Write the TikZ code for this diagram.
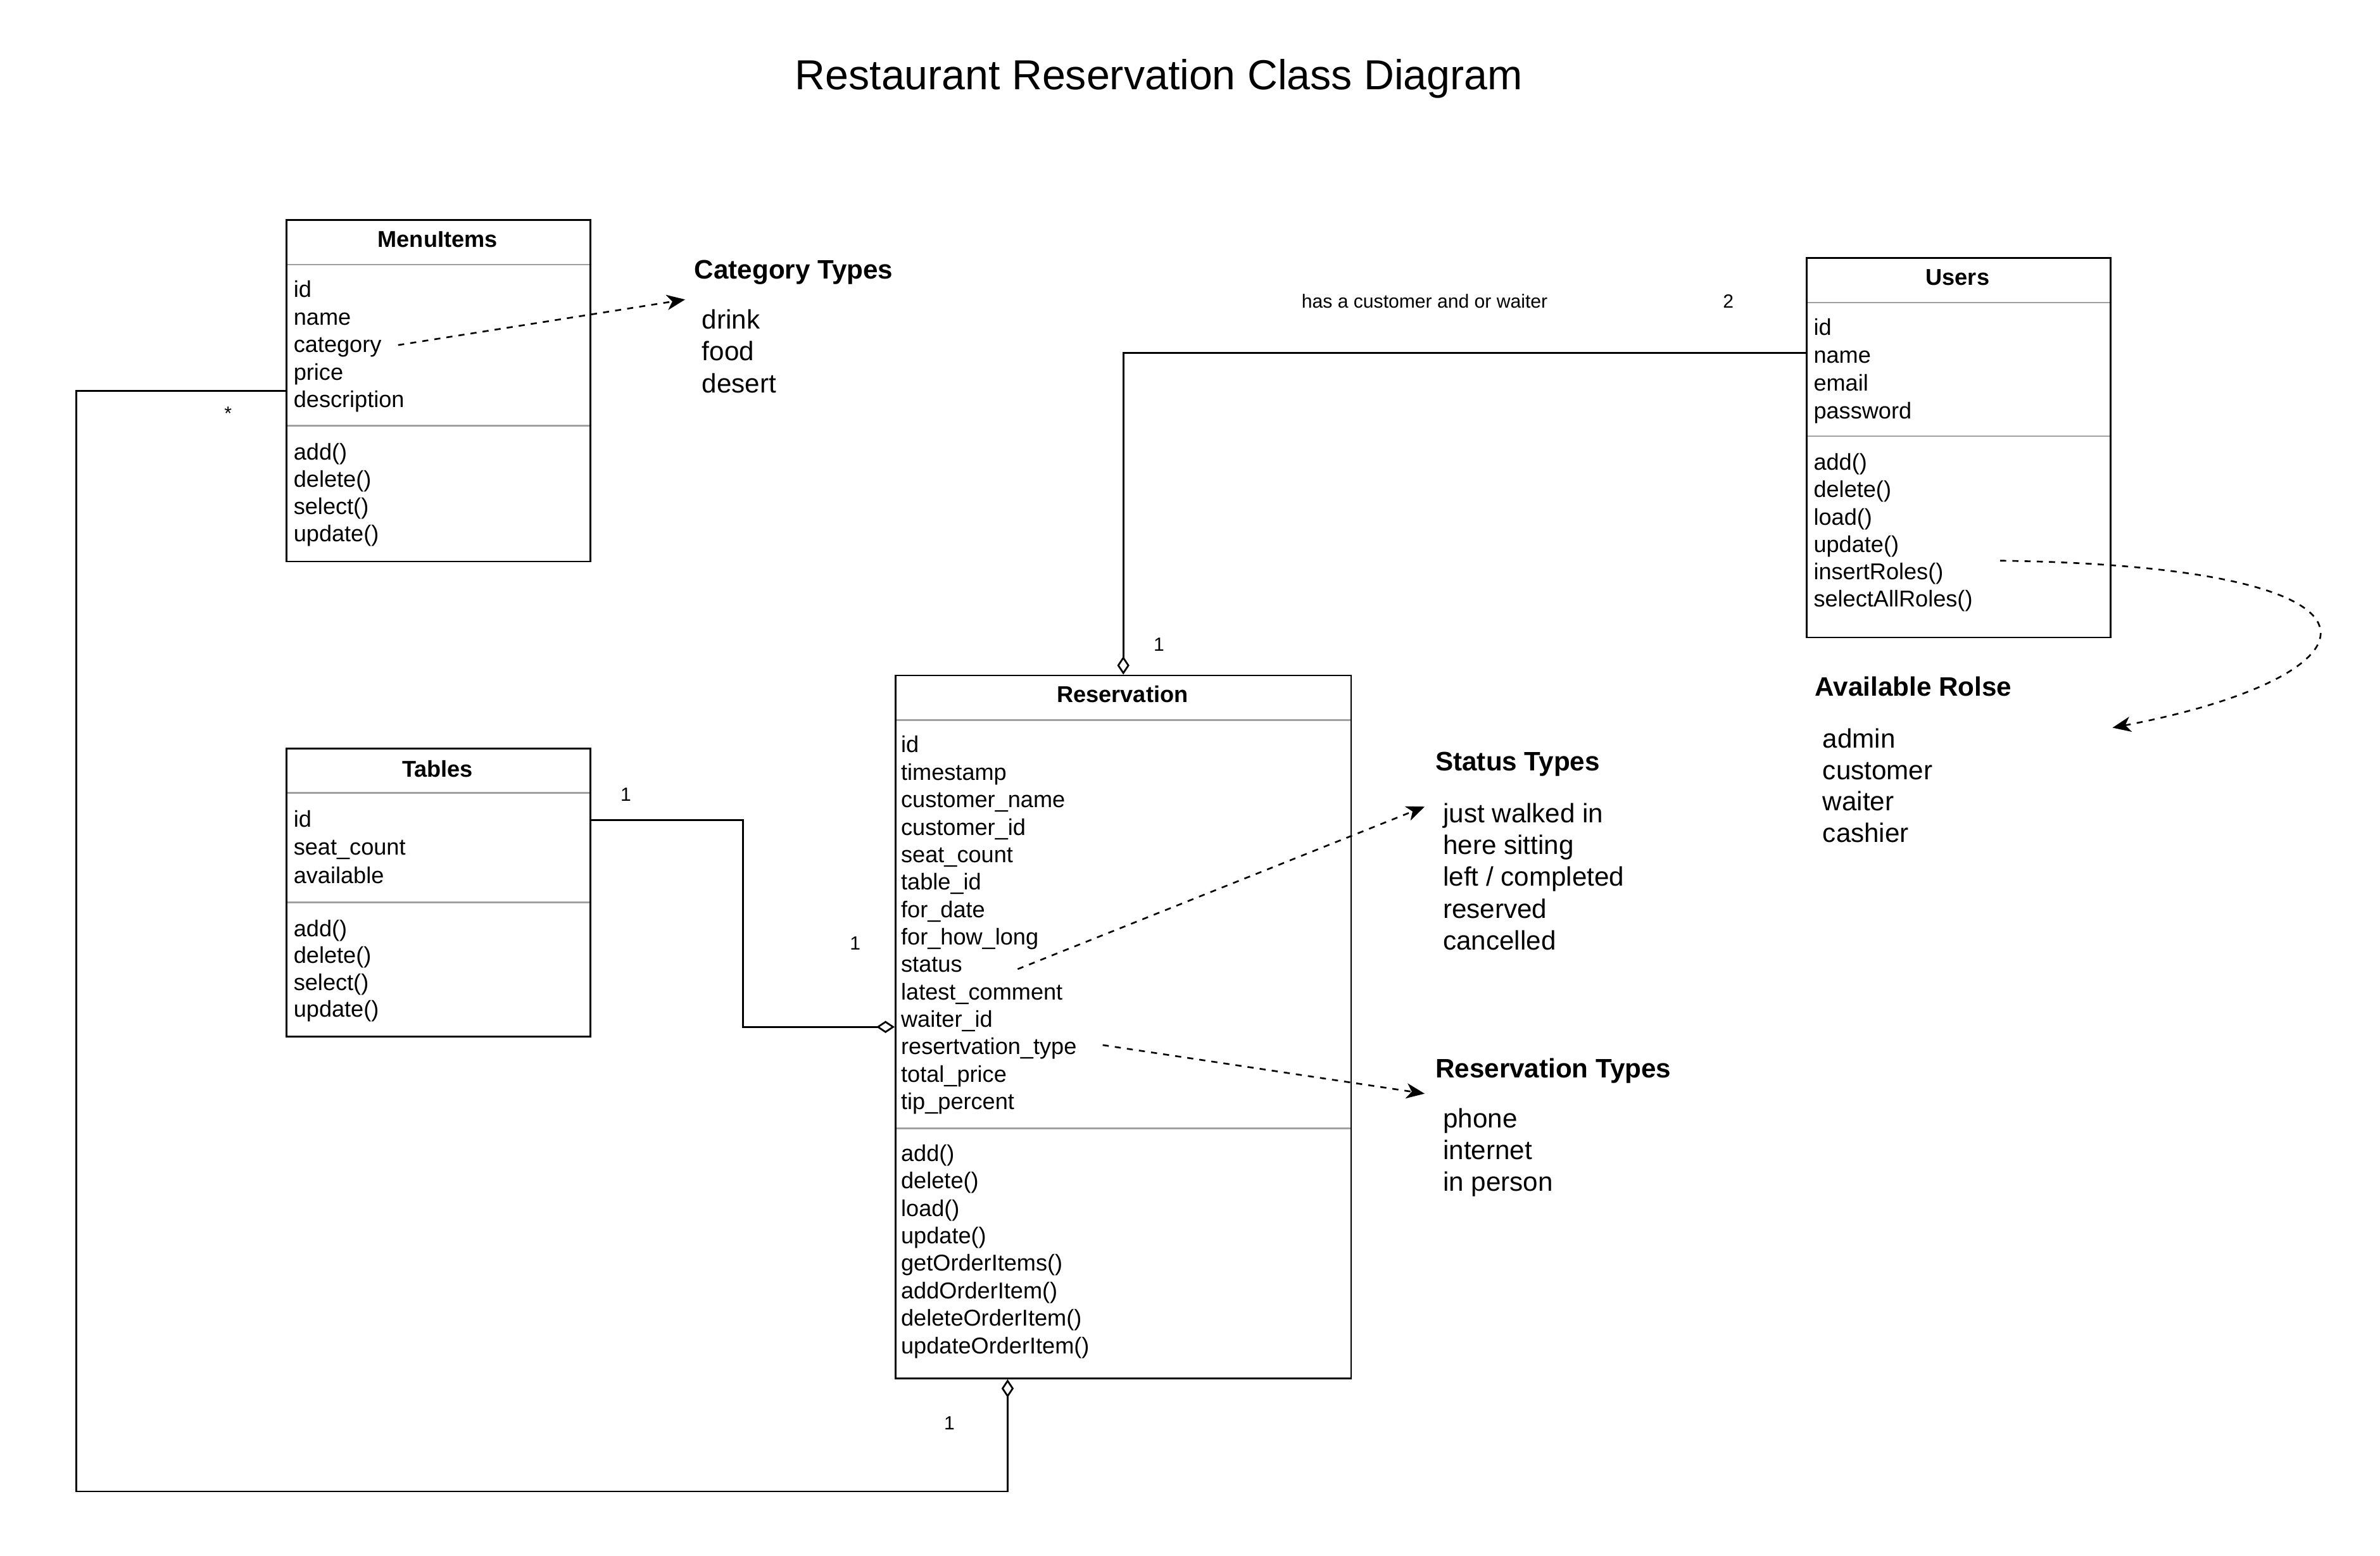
\documentclass[tikz,border=0pt]{standalone}
\usepackage{fontspec}
\setmainfont{Liberation Sans}
\usetikzlibrary{arrows.meta,calc}
\definecolor{divgray}{HTML}{A0A0A0}
\tikzset{
  classbox/.style={draw=black, line width=1.15pt, inner sep=0pt, anchor=north west},
  divline/.style={draw=divgray, line width=1.1pt},
  attr/.style={font=\fontsize{15}{18}\selectfont, inner sep=0pt, text height=10.8pt, text depth=0pt, anchor=west},
  ctitle/.style={font=\bfseries\fontsize{15}{18}\selectfont, inner sep=0pt, text height=10.8pt, text depth=0pt, anchor=center},
  notetxt/.style={font=\fontsize{17.5}{21}\selectfont, inner sep=0pt, text height=12.6pt, text depth=0pt, anchor=west},
  notehead/.style={font=\bfseries\fontsize{17.5}{21}\selectfont, inner sep=0pt, text height=12.6pt, text depth=0pt, anchor=west},
  mult/.style={font=\fontsize{12.5}{15}\selectfont, inner sep=0pt, text height=9pt, text depth=0pt, anchor=center},
  assoc/.style={draw=black, line width=1.15pt, -{Diamond[open, length=12pt, width=8pt, line width=1.15pt]}},
  dep/.style={draw=black, line width=1.1pt, dash pattern=on 4pt off 4pt, -{Stealth[length=12pt, width=10pt, inset=3.5pt]}},
}
\begin{document}
\begin{tikzpicture}[x=1pt,y=-1pt]
\useasboundingbox (0,0) rectangle (1560,1019.67);
\begin{scope}[x=0.9953pt, y=-0.9954pt, shift={(0.19pt,0.73pt)}]

% title
\node[font=\fontsize{27.5}{33}\selectfont, inner sep=0pt, text height=19.8pt, text depth=0pt] (title) at (763,49.8) {Restaurant Reservation Class Diagram};

% ---------- MenuItems ----------
\draw[divline] (188,175) -- (388,175);
\draw[divline] (188,281) -- (388,281);
\node[classbox, minimum width=199.06pt, minimum height=223.97pt] (menu) at (188,145) {};
\node[ctitle] (menut) at (288,158) {MenuItems};
\foreach \t [count=\i] in {id,name,category,price,description}
  \node[attr] (ma\i) at (193,{191+18.2*(\i-1)}) {\t};
\foreach \t [count=\i] in {add(),delete(),select(),update()}
  \node[attr] (mm\i) at (193,{298+18*(\i-1)}) {\t};

% ---------- Tables ----------
\draw[divline] (188,523) -- (388,523);
\draw[divline] (188,595) -- (388,595);
\node[classbox, minimum width=199.06pt, minimum height=189.13pt] (tables) at (188,493) {};
\node[ctitle] (tablest) at (288,507) {Tables};
\foreach \t [count=\i] in {id,seat\_count,available}
  \node[attr] (ta\i) at (193,{540+18.5*(\i-1)}) {\t};
\foreach \t [count=\i] in {add(),delete(),select(),update()}
  \node[attr] (tm\i) at (193,{612+17.7*(\i-1)}) {\t};

% ---------- Reservation ----------
\draw[divline] (589,475) -- (889,475);
\draw[divline] (589,744) -- (889,744);
\node[classbox, minimum width=298.59pt, minimum height=460.87pt] (res) at (589,445) {};
\node[ctitle] (rest) at (739,458) {Reservation};
\foreach \t [count=\i] in {id,timestamp,customer\_name,customer\_id,seat\_count,table\_id,for\_date,for\_how\_long,status,latest\_comment,waiter\_id,resertvation\_type,total\_price,tip\_percent}
  \node[attr] (ra\i) at (593,{491+18.08*(\i-1)}) {\t};
\foreach \t [count=\i] in {add(),delete(),load(),update(),getOrderItems(),addOrderItem(),deleteOrderItem(),updateOrderItem()}
  \node[attr] (rm\i) at (593,{760+18.1*(\i-1)}) {\t};

% ---------- Users ----------
\draw[divline] (1189,200) -- (1389,200);
\draw[divline] (1189,288) -- (1389,288);
\node[classbox, minimum width=199.06pt, minimum height=248.85pt] (users) at (1189,170) {};
\node[ctitle] (userst) at (1289,183) {Users};
\foreach \t [count=\i] in {id,name,email,password}
  \node[attr] (ua\i) at (1194,{216+18.3*(\i-1)}) {\t};
\foreach \t [count=\i] in {add(),delete(),load(),update(),insertRoles(),selectAllRoles()}
  \node[attr] (um\i) at (1194,{305+18*(\i-1)}) {\t};

% ---------- notes ----------
\node[notehead] (cath) at (457,178) {Category Types};
\foreach \t [count=\i] in {drink,food,desert}
  \node[notetxt] (cat\i) at (462,{211+21*(\i-1)}) {\t};

\node[notehead] (sth) at (945,502) {Status Types};
\foreach \t [count=\i] in {just walked in,here sitting,left / completed,reserved,cancelled}
  \node[notetxt] (st\i) at (950,{536+21*(\i-1)}) {\t};

\node[notehead] (rth) at (945,704) {Reservation Types};
\foreach \t [count=\i] in {phone,internet,in person}
  \node[notetxt] (rt\i) at (950,{737+21*(\i-1)}) {\t};

\node[notehead] (roleh) at (1195,453) {Available Rolse};
\foreach \t [count=\i] in {admin,customer,waiter,cashier}
  \node[notetxt] (role\i) at (1200,{487+20.7*(\i-1)}) {\t};

% ---------- associations ----------
\coordinate (uport) at ($(users.north west)!0.252!(users.south west)$);
\draw[assoc] (uport) -| (res.north);
\coordinate (tport) at ($(tables.north east)!0.25!(tables.south east)$);
\coordinate (tbend) at (489,600);
\draw[assoc] (tport) -| (tbend) |- (res.west);
\coordinate (mbend) at (50,983);
\coordinate (rport) at ($(res.south west)!0.247!(res.south east)$);
\draw[assoc] (menu.west) -| (mbend) -| (rport);

\node[mult] (lblhas) at (938,199) {has a customer and or waiter};
\node[mult] (lbl2) at (1138,199) {2};
\node[mult] (lbl1a) at (763,425) {1};
\node[mult] (lbl1b) at (412,524) {1};
\node[mult] (lbl1c) at (563,622) {1};
\node[mult] (lblstar) at (150,273) {*};
\node[mult] (lbl1d) at (625,938) {1};

% ---------- dependencies ----------
\coordinate (catsrc) at (262,228);
\coordinate (cattgt) at (451,198);
\draw[dep] (catsrc) -- (cattgt);
\coordinate (stsrc) at (670,639);
\coordinate (sttgt) at (938,532);
\draw[dep] (stsrc) -- (sttgt);
\coordinate (rtsrc) at (726,689);
\coordinate (rttgt) at (938,721);
\draw[dep] (rtsrc) -- (rttgt);
\coordinate (rolesrc) at (1317,370);
\coordinate (roletgt) at (1391,480);
\draw[dep] (rolesrc) .. controls (1598,374) and (1570,446) .. (roletgt);
\end{scope}
\end{tikzpicture}
\end{document}
